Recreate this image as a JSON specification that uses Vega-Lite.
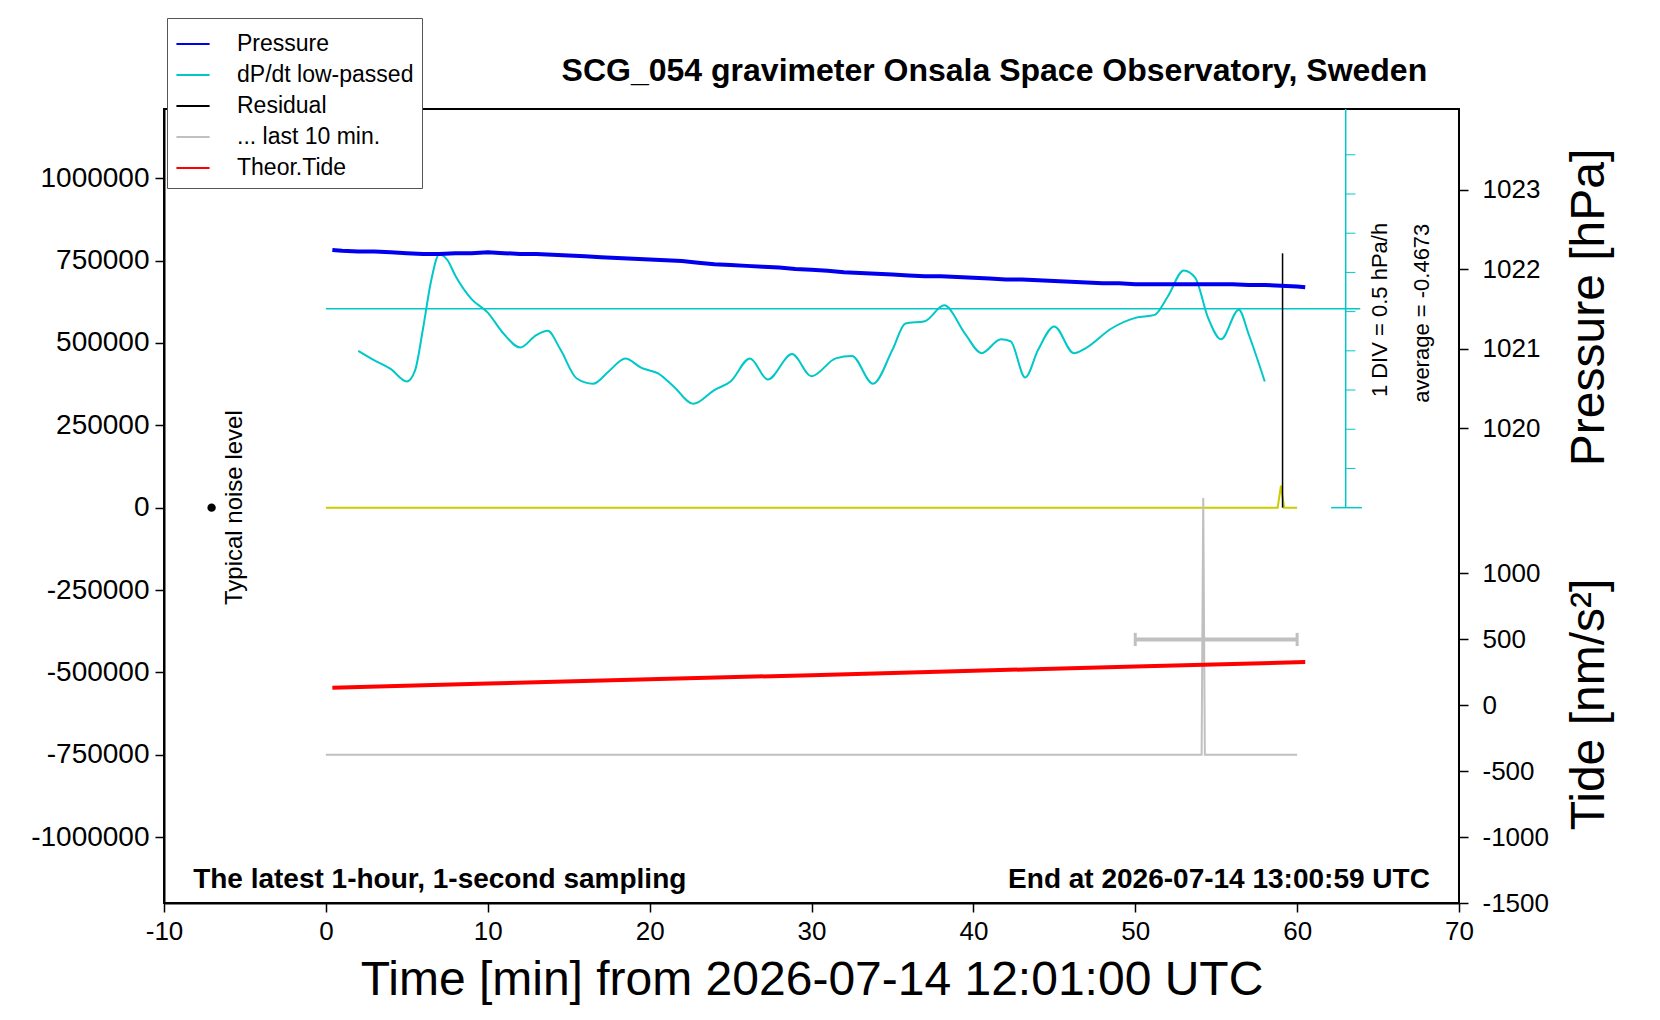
{
  "$schema": "https://vega.github.io/schema/vega-lite/v6.json",
  "autosize": "none",
  "padding": {"left": 164, "top": 109, "right": 201, "bottom": 117},
  "width": 1295,
  "height": 794,
  "background": "white",
  "config": {
    "font": "Liberation Sans",
    "view": {"stroke": "black", "strokeWidth": 2},
    "axis": {"grid": false, "domainColor": "black", "tickColor": "black", "labelColor": "black", "titleColor": "black", "labelFontSize": 26, "tickSize": 9, "domainWidth": 2, "tickWidth": 1.5, "titleFontWeight": "normal", "titleFontSize": 48, "labelExpr": "'' + datum.value", "labelFlush": false}
  },
  "datasets": {
    "pressure": [
      {"t": 0.4, "p": 1022.24}, {"t": 1, "p": 1022.23}, {"t": 2, "p": 1022.22}, {"t": 3, "p": 1022.22}, {"t": 4, "p": 1022.21},
      {"t": 5, "p": 1022.2}, {"t": 6, "p": 1022.19}, {"t": 7, "p": 1022.19}, {"t": 8, "p": 1022.2}, {"t": 9, "p": 1022.2},
      {"t": 10, "p": 1022.21}, {"t": 11, "p": 1022.2}, {"t": 12, "p": 1022.19}, {"t": 13, "p": 1022.19}, {"t": 14, "p": 1022.18},
      {"t": 15, "p": 1022.17}, {"t": 16, "p": 1022.16}, {"t": 17, "p": 1022.15}, {"t": 18, "p": 1022.14}, {"t": 19, "p": 1022.13},
      {"t": 20, "p": 1022.12}, {"t": 21, "p": 1022.11}, {"t": 22, "p": 1022.1}, {"t": 23, "p": 1022.08}, {"t": 24, "p": 1022.06},
      {"t": 25, "p": 1022.05}, {"t": 26, "p": 1022.04}, {"t": 27, "p": 1022.03}, {"t": 28, "p": 1022.02}, {"t": 29, "p": 1022.0},
      {"t": 30, "p": 1021.99}, {"t": 31, "p": 1021.98}, {"t": 32, "p": 1021.96}, {"t": 33, "p": 1021.95}, {"t": 34, "p": 1021.94},
      {"t": 35, "p": 1021.93}, {"t": 36, "p": 1021.92}, {"t": 37, "p": 1021.91}, {"t": 38, "p": 1021.91}, {"t": 39, "p": 1021.9},
      {"t": 40, "p": 1021.89}, {"t": 41, "p": 1021.88}, {"t": 42, "p": 1021.87}, {"t": 43, "p": 1021.87}, {"t": 44, "p": 1021.86},
      {"t": 45, "p": 1021.85}, {"t": 46, "p": 1021.84}, {"t": 47, "p": 1021.83}, {"t": 48, "p": 1021.82}, {"t": 49, "p": 1021.82},
      {"t": 50, "p": 1021.81}, {"t": 51, "p": 1021.81}, {"t": 52, "p": 1021.81}, {"t": 53, "p": 1021.81}, {"t": 54, "p": 1021.81},
      {"t": 55, "p": 1021.81}, {"t": 56, "p": 1021.81}, {"t": 57, "p": 1021.8}, {"t": 58, "p": 1021.8}, {"t": 59, "p": 1021.79},
      {"t": 60, "p": 1021.78}, {"t": 60.5, "p": 1021.77}
    ],
    "dpdt": [
      {"t": 2, "v": 476000}, {"t": 3, "v": 447000}, {"t": 4, "v": 421000}, {"t": 5, "v": 383000}, {"t": 5.5, "v": 415000},
      {"t": 6, "v": 543000}, {"t": 6.5, "v": 688000}, {"t": 7, "v": 768000}, {"t": 7.5, "v": 752000}, {"t": 8, "v": 704000},
      {"t": 9, "v": 633000}, {"t": 10, "v": 592000}, {"t": 11, "v": 527000}, {"t": 12, "v": 486000}, {"t": 13, "v": 524000},
      {"t": 13.7, "v": 537000}, {"t": 14.5, "v": 479000}, {"t": 15.5, "v": 392000}, {"t": 16.5, "v": 376000}, {"t": 17.5, "v": 415000},
      {"t": 18.5, "v": 453000}, {"t": 19.5, "v": 424000}, {"t": 20.5, "v": 408000}, {"t": 21.5, "v": 367000}, {"t": 22.7, "v": 315000},
      {"t": 24, "v": 357000}, {"t": 25, "v": 383000}, {"t": 26.2, "v": 453000}, {"t": 27.3, "v": 389000}, {"t": 28.8, "v": 466000},
      {"t": 30, "v": 399000}, {"t": 31.5, "v": 453000}, {"t": 32.5, "v": 460000}, {"t": 33.8, "v": 376000}, {"t": 35, "v": 479000},
      {"t": 35.8, "v": 559000}, {"t": 37, "v": 566000}, {"t": 38.2, "v": 614000}, {"t": 39.5, "v": 527000}, {"t": 40.5, "v": 469000},
      {"t": 41.7, "v": 511000}, {"t": 42.3, "v": 505000}, {"t": 43.2, "v": 395000}, {"t": 44, "v": 479000}, {"t": 45, "v": 550000},
      {"t": 46.2, "v": 469000}, {"t": 47, "v": 486000}, {"t": 48.5, "v": 543000}, {"t": 50, "v": 576000}, {"t": 51.2, "v": 585000},
      {"t": 52, "v": 640000}, {"t": 53, "v": 720000}, {"t": 53.7, "v": 698000}, {"t": 54.5, "v": 576000}, {"t": 55.3, "v": 511000},
      {"t": 56.4, "v": 601000}, {"t": 57, "v": 527000}, {"t": 58, "v": 383000}
    ],
    "residual": [{"t": 59.1, "v": 0}, {"t": 59.1, "v": 772000}],
    "last10": [
      {"t": 0, "v": -750000}, {"t": 54.1, "v": -750000}, {"t": 54.2, "v": 29000}, {"t": 54.3, "v": -750000}, {"t": 60, "v": -750000}
    ],
    "yellow": [
      {"t": 0, "v": 0}, {"t": 58.8, "v": 0}, {"t": 59, "v": 67000}, {"t": 59.2, "v": 0}, {"t": 60, "v": 0}
    ],
    "tide": [
      {"t": 0.4, "g": 132}, {"t": 10, "g": 164}, {"t": 20, "g": 196}, {"t": 30, "g": 228}, {"t": 40, "g": 261}, {"t": 50, "g": 293}, {"t": 60.5, "g": 327}
    ],
    "divticks": [
      {"v": 119000}, {"v": 238000}, {"v": 357000}, {"v": 476000}, {"v": 595000}, {"v": 714000}, {"v": 833000}, {"v": 952000}, {"v": 1071000}
    ]
  },
  "resolve": {"scale": {"y": "independent"}},
  "layer": [
    {
      "layer": [
        {
          "data": {"name": "yellow"},
          "mark": {"type": "line", "color": "#cccc00", "strokeWidth": 2},
          "encoding": {
            "x": {"field": "t", "type": "quantitative", "scale": {"domain": [-10, 70], "nice": false, "zero": false},
              "axis": {"values": [-10, 0, 10, 20, 30, 40, 50, 60, 70], "title": "Time [min] from 2026-07-14 12:01:00 UTC", "titlePadding": 12, "labelPadding": 6}},
            "y": {"field": "v", "type": "quantitative", "scale": {"domain": [-1200000, 1210000], "nice": false, "zero": false},
              "axis": {"orient": "left", "values": [-1000000, -750000, -500000, -250000, 0, 250000, 500000, 750000, 1000000], "title": null, "labelPadding": 6, "labelFontSize": 28}}
          }
        },
        {
          "data": {"name": "dpdt"},
          "mark": {"type": "line", "strokeWidth": 2, "interpolate": "monotone"},
          "encoding": {
            "x": {"field": "t", "type": "quantitative"},
            "y": {"field": "v", "type": "quantitative"},
            "color": {"datum": "dP/dt low-passed", "type": "nominal",
              "scale": {"domain": ["Pressure", "dP/dt low-passed", "Residual", "... last 10 min.", "Theor.Tide"], "range": ["#0000ee", "#00c8c8", "black", "#c0c0c0", "red"]},
              "legend": {"title": null, "orient": "none", "legendX": 3, "legendY": -91, "labelFontSize": 23, "labelLimit": 0, "symbolType": "stroke", "symbolStrokeWidth": 2, "symbolSize": 1100, "fillColor": "white", "strokeColor": "#555", "padding": 8, "rowPadding": 1, "labelOffset": 26, "offset": 0}}
          }
        },
        {
          "data": {"values": [{"t": 0, "v": 604000}, {"t": 63.9, "v": 604000}]},
          "mark": {"type": "line", "color": "#00c8c8", "strokeWidth": 1.5},
          "encoding": {"x": {"field": "t", "type": "quantitative"}, "y": {"field": "v", "type": "quantitative"}}
        },
        {
          "data": {"values": [{"t": 63, "v": 0}, {"t": 63, "v": 1210000}]},
          "mark": {"type": "line", "color": "#00c8c8", "strokeWidth": 1.5},
          "encoding": {"x": {"field": "t", "type": "quantitative"}, "y": {"field": "v", "type": "quantitative"}}
        },
        {
          "data": {"values": [{"t": 62.1, "v": 0}, {"t": 64, "v": 0}]},
          "mark": {"type": "line", "color": "#00c8c8", "strokeWidth": 1.5},
          "encoding": {"x": {"field": "t", "type": "quantitative"}, "y": {"field": "v", "type": "quantitative"}}
        },
        {
          "data": {"name": "divticks"},
          "mark": {"type": "rule", "color": "#00c8c8", "strokeWidth": 1},
          "encoding": {"x": {"datum": 63}, "x2": {"datum": 63.6}, "y": {"field": "v", "type": "quantitative"}}
        },
        {
          "data": {"name": "residual"},
          "mark": {"type": "line", "strokeWidth": 1.5},
          "encoding": {
            "x": {"field": "t", "type": "quantitative"},
            "y": {"field": "v", "type": "quantitative"},
            "color": {"datum": "Residual", "type": "nominal"}
          }
        },
        {
          "data": {"name": "last10"},
          "mark": {"type": "line", "strokeWidth": 2},
          "encoding": {
            "x": {"field": "t", "type": "quantitative"},
            "y": {"field": "v", "type": "quantitative"},
            "color": {"datum": "... last 10 min.", "type": "nominal"}
          }
        },
        {
          "data": {"values": [{"a": 50, "b": 60, "v": -400000}]},
          "mark": {"type": "rule", "color": "#c0c0c0", "strokeWidth": 4},
          "encoding": {"x": {"field": "a", "type": "quantitative"}, "x2": {"field": "b"}, "y": {"field": "v", "type": "quantitative"}}
        },
        {
          "data": {"values": [{"t": 50, "lo": -380000, "hi": -420000}, {"t": 60, "lo": -380000, "hi": -420000}]},
          "mark": {"type": "rule", "color": "#c0c0c0", "strokeWidth": 3},
          "encoding": {"x": {"field": "t", "type": "quantitative"}, "y": {"field": "lo", "type": "quantitative"}, "y2": {"field": "hi"}}
        },
        {
          "data": {"values": [{"t": -7.06, "v": 0}]},
          "mark": {"type": "point", "filled": true, "color": "black", "opacity": 1, "size": 70},
          "encoding": {"x": {"field": "t", "type": "quantitative"}, "y": {"field": "v", "type": "quantitative"}}
        },
        {
          "data": {"values": [{"t": -5.6, "v": 0, "label": "Typical noise level"}]},
          "mark": {"type": "text", "angle": 270, "fontSize": 24, "align": "center", "baseline": "middle"},
          "encoding": {"x": {"field": "t", "type": "quantitative"}, "y": {"field": "v", "type": "quantitative"}, "text": {"field": "label"}}
        },
        {
          "data": {"values": [{"t": 65.1, "v": 600000, "label": "1 DIV = 0.5 hPa/h"}, {"t": 67.7, "v": 590000, "label": "average = -0.4673"}]},
          "mark": {"type": "text", "angle": 270, "fontSize": 22, "align": "center", "baseline": "middle"},
          "encoding": {"x": {"field": "t", "type": "quantitative"}, "y": {"field": "v", "type": "quantitative"}, "text": {"field": "label"}}
        },
        {
          "data": {"values": [{"t": -8.2, "v": -1129000, "label": "The latest 1-hour, 1-second sampling"}]},
          "mark": {"type": "text", "fontSize": 28, "fontWeight": "bold", "align": "left", "baseline": "middle"},
          "encoding": {"x": {"field": "t", "type": "quantitative"}, "y": {"field": "v", "type": "quantitative"}, "text": {"field": "label"}}
        },
        {
          "data": {"values": [{"t": 68.2, "v": -1129000, "label": "End at 2026-07-14 13:00:59 UTC"}]},
          "mark": {"type": "text", "fontSize": 28, "fontWeight": "bold", "align": "right", "baseline": "middle"},
          "encoding": {"x": {"field": "t", "type": "quantitative"}, "y": {"field": "v", "type": "quantitative"}, "text": {"field": "label"}}
        },
        {
          "data": {"values": [{"t": 41.3, "v": 1325000, "label": "SCG_054 gravimeter Onsala Space Observatory, Sweden"}]},
          "mark": {"type": "text", "fontSize": 32, "fontWeight": "bold", "align": "center", "baseline": "middle"},
          "encoding": {"x": {"field": "t", "type": "quantitative"}, "y": {"field": "v", "type": "quantitative"}, "text": {"field": "label"}}
        }
      ]
    },
    {
      "data": {"name": "pressure"},
      "mark": {"type": "line", "strokeWidth": 4},
      "encoding": {
        "x": {"field": "t", "type": "quantitative"},
        "y": {"field": "p", "type": "quantitative", "scale": {"domain": [1014.027, 1024.013], "nice": false, "zero": false},
          "axis": {"orient": "right", "values": [1020, 1021, 1022, 1023], "title": "Pressure [hPa]", "titleAngle": 270, "titleX": 130, "titleY": 198, "titleAlign": "center", "titleBaseline": "middle", "domain": false, "labelPadding": 14}},
        "color": {"datum": "Pressure", "type": "nominal"}
      }
    },
    {
      "data": {"name": "tide"},
      "mark": {"type": "line", "strokeWidth": 4},
      "encoding": {
        "x": {"field": "t", "type": "quantitative"},
        "y": {"field": "g", "type": "quantitative", "scale": {"domain": [-1500, 4521], "nice": false, "zero": false},
          "axis": {"orient": "right", "values": [-1500, -1000, -500, 0, 500, 1000], "title": "Tide [nm/s²]", "titleAngle": 270, "titleX": 130, "titleY": 595, "titleAlign": "center", "titleBaseline": "middle", "domain": false, "labelPadding": 14}},
        "color": {"datum": "Theor.Tide", "type": "nominal"}
      }
    }
  ]
}
